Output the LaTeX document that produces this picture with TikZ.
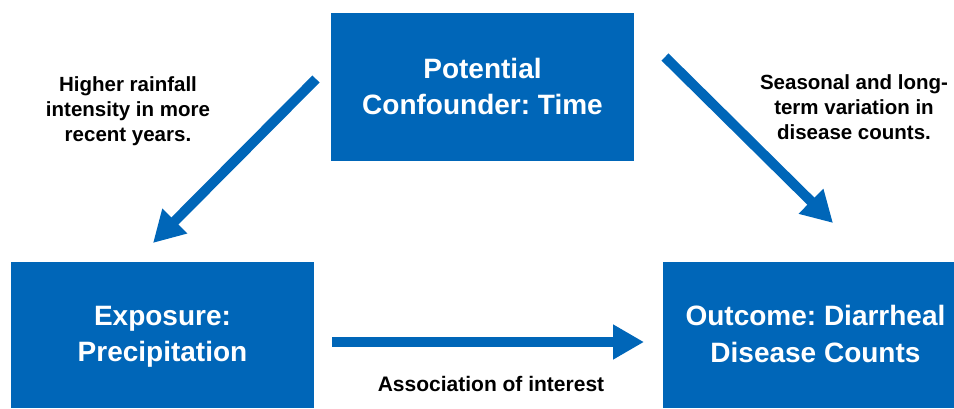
\documentclass[tikz,border=0pt]{standalone}
\usepackage{fontspec}
\setmainfont{Liberation Sans}
\usetikzlibrary{arrows.meta}
\definecolor{boxblue}{RGB}{0,102,184}
\frenchspacing
\begin{document}
\begin{tikzpicture}[x=1pt,y=-1pt,
  bluebox/.style={fill=boxblue,draw=none,text=white,font=\bfseries\fontsize{28}{36.5}\selectfont,align=center,inner sep=0pt},
  lbl/.style={font=\bfseries\fontsize{20.5}{25}\selectfont,align=center,inner sep=0pt},
  bigarrow/.style={draw=boxblue,line width=10pt,-{Triangle[width=33pt,length=31pt]}}]
\useasboundingbox (0,0) rectangle (954,408);
\fill[boxblue] (331,13) rectangle (634,161);
\node[bluebox] (time) at (482.5,86.5) {Potential\\Confounder: Time};
\fill[boxblue] (11,262) rectangle (314,408);
\node[bluebox] (expo) at (162.5,337) {Exposure:\\Precipitation};
\fill[boxblue] (663,262) rectangle (954,408);
\node[bluebox] (outc) at (815.5,334) {Outcome: Diarrheal\\Disease Counts};
\node[lbl] (lblL) at (128,111.4) {Higher rainfall\\intensity in more\\recent years.};
\node[lbl] (lblR) at (854,107.5) {Seasonal and long-\\term variation in\\disease counts.};
\node[lbl,font=\bfseries\fontsize{21}{25}\selectfont] (lblB) at (491,384) {Association of interest};
\coordinate (aS) at (316,79);
\coordinate (aE) at (153,243);
\coordinate (bS) at (665,57);
\coordinate (bE) at (833,223);
\coordinate (cS) at (332,342);
\coordinate (cE) at (644,342);
\draw[bigarrow] (aS) -- (aE);
\draw[bigarrow] (bS) -- (bE);
\draw[bigarrow] (cS) -- (cE);
\end{tikzpicture}
\end{document}
